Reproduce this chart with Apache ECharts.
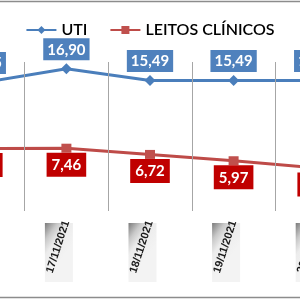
<!DOCTYPE html>
<html><head><meta charset="utf-8">
<script src="https://cdn.jsdelivr.net/npm/echarts@6/dist/echarts.min.js"></script>
<style>html,body{margin:0;padding:0;background:#fff}#c{width:300px;height:300px}</style>
</head><body><div id="c"></div>
<script>
const categories = ['16/11/2021','17/11/2021','18/11/2021','19/11/2021','20/11/2021'];
const utiValues = [15.25, 16.90, 15.49, 15.49, 15.49];
const leitosValues = [7.43, 7.46, 6.72, 5.97, 5.10];
const seriesNames = ['UTI', 'LEITOS CLÍNICOS'];

const fmt = p => p.value.toFixed(2).replace('.', ',');
const chart = echarts.init(document.getElementById('c'), null, {renderer: 'canvas'});
chart.setOption({
  animation: false,
  backgroundColor: '#fff',
  legend: {
    top: 17, left: 'center', itemWidth: 30, itemHeight: 10, itemGap: 22,
    textStyle: {fontFamily: 'Lato', fontSize: 16, color: '#000', fontWeight: 600},
    data: seriesNames
  },
  grid: [
    {left: -59, right: -59, top: 62, bottom: 89, containLabel: false, outerBoundsMode: 'none'},
    {left: -66.5, right: -51.5, top: 62, bottom: 89, containLabel: false, outerBoundsMode: 'none'}
  ],
  xAxis: [
    {type: 'category', data: categories, gridIndex: 0, z: 5,
     axisLine: {show: false}, axisTick: {show: false},
     splitLine: {show: true, lineStyle: {color: '#a6a6a6', width: 1}},
     axisLabel: {interval: 0, rotate: 72, margin: 10, fontFamily: 'Liberation Sans', fontSize: 11, fontWeight: 'bold', color: '#1a1a1a'}},
    {type: 'category', data: categories, gridIndex: 1, z: 1,
     axisLine: {show: false}, axisTick: {show: false}, splitLine: {show: false},
     axisLabel: {interval: 0, rotate: 0, margin: 12, formatter: () => ' ',
       width: 28, height: 59, align: 'center', verticalAlign: 'top',
       backgroundColor: new echarts.graphic.LinearGradient(0, 0, 1, 0.35, [
         {offset: 0, color: '#7a7a7a'}, {offset: 0.3, color: '#c8c8c8'},
         {offset: 0.55, color: '#ececec'}, {offset: 1, color: '#f3f3f3'}])}}
  ],
  yAxis: [
    {type: 'value', min: 0, max: 17.7, show: false, gridIndex: 0},
    {type: 'value', min: 0, max: 17.7, show: false, gridIndex: 1}
  ],
  series: [
    {name: seriesNames[0], type: 'line', data: utiValues, z: 4,
     symbol: 'diamond', symbolSize: 11, showAllSymbol: true,
     itemStyle: {color: '#4A7EBB'}, lineStyle: {color: '#4A7EBB', width: 3},
     label: {show: true, position: 'top', distance: 3, formatter: fmt,
       fontFamily: 'Lato', fontWeight: 'bold', fontSize: 15, color: '#fff',
       backgroundColor: '#4F81BD', padding: [4, 4, 3, 4]}},
    {name: seriesNames[1], type: 'line', data: leitosValues, z: 3,
     symbol: 'rect', symbolSize: [10, 9], showAllSymbol: true,
     itemStyle: {color: '#C0504D'}, lineStyle: {color: '#BE4B48', width: 3},
     label: {show: true, position: 'bottom', distance: 0, formatter: fmt,
       fontFamily: 'Lato', fontWeight: 'bold', fontSize: 15, color: '#fff',
       backgroundColor: '#C00000', padding: [5, 5, 4, 5]}}
  ],
  graphic: [{type: 'rect', silent: true, z: 100,
    shape: {x: -5, y: 1.5, width: 310, height: 296},
    style: {fill: 'none', stroke: '#8c8c8c', lineWidth: 1.5}}]
});
</script></body></html>
